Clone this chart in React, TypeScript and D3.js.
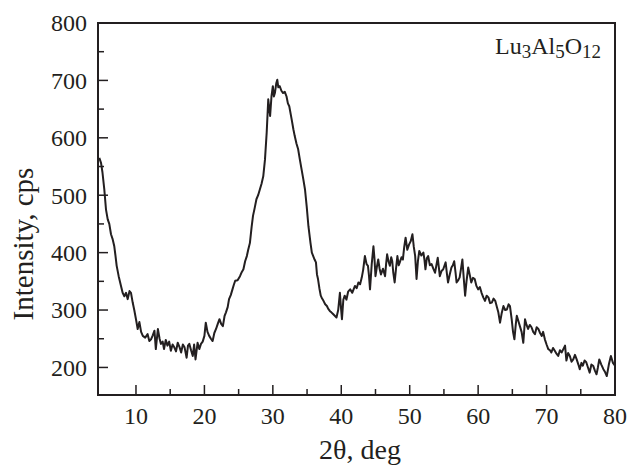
import React from 'react';
import * as d3 from 'd3';

// 2theta (deg) and intensity (cps)
const twoTheta = [
  4.64, 4.9, 5.1, 5.37, 5.62, 5.87, 6.1, 6.35, 6.6, 6.83, 7.0, 7.18, 7.47, 7.81, 8.05, 8.3, 8.55, 8.79, 9.05, 9.27,
  9.52, 9.75, 10.0, 10.25, 10.5, 10.75, 11.0, 11.35, 11.7, 11.95, 12.2, 12.45, 12.7, 12.9, 13.2, 13.45, 13.65, 13.9, 14.1, 14.35,
  14.6, 14.85, 15.1, 15.35, 15.6, 15.85, 16.1, 16.35, 16.6, 16.85, 17.1, 17.4, 17.6, 17.8, 18.05, 18.3, 18.5, 18.7, 19.0, 19.25,
  19.5, 19.75, 20.0, 20.2, 20.45, 20.7, 20.95, 21.2, 21.45, 21.7, 21.95, 22.2, 22.45, 22.7, 22.95, 23.15, 23.4, 23.6, 23.85, 24.1,
  24.3, 24.5, 24.85, 25.2, 25.45, 25.7, 25.95, 26.2, 26.4, 26.65, 26.9, 27.1, 27.35, 27.6, 27.85, 28.1, 28.35, 28.6, 28.85, 29.1,
  29.33, 29.6, 29.8, 30.0, 30.15, 30.3, 30.5, 30.65, 30.8, 31.0, 31.25, 31.5, 31.75, 32.0, 32.2, 32.4, 32.75, 33.0, 33.2, 33.45,
  33.7, 33.95, 34.2, 34.45, 34.7, 34.95, 35.2, 35.5, 35.7, 35.9, 36.1, 36.3, 36.45, 36.6, 36.8, 37.0, 37.2, 37.4, 37.65, 37.9,
  38.1, 38.35, 38.55, 38.8, 39.05, 39.3, 39.55, 39.8, 39.95, 40.1, 40.3, 40.5, 40.75, 41.0, 41.3, 41.6, 42.0, 42.25, 42.5, 42.75,
  43.0, 43.2, 43.45, 43.7, 43.9, 44.05, 44.2, 44.45, 44.7, 44.85, 45.0, 45.2, 45.4, 45.6, 45.8, 46.1, 46.4, 46.55, 46.7, 46.9,
  47.1, 47.3, 47.45, 47.6, 47.8, 48.0, 48.2, 48.4, 48.55, 48.8, 49.0, 49.2, 49.4, 49.65, 49.9, 50.15, 50.4, 50.6, 50.8, 51.0,
  51.2, 51.4, 51.7, 52.0, 52.15, 52.3, 52.5, 52.7, 52.95, 53.2, 53.45, 53.7, 53.9, 54.1, 54.25, 54.4, 54.65, 54.9, 55.1, 55.25,
  55.45, 55.6, 55.85, 56.1, 56.3, 56.5, 56.7, 56.85, 57.1, 57.3, 57.5, 57.7, 57.9, 58.1, 58.3, 58.55, 58.8, 59.0, 59.25, 59.5,
  59.75, 60.0, 60.25, 60.5, 60.75, 61.0, 61.25, 61.5, 61.75, 62.0, 62.25, 62.5, 62.75, 62.95, 63.2, 63.45, 63.7, 63.95, 64.2, 64.45,
  64.65, 64.9, 65.1, 65.3, 65.5, 65.65, 65.9, 66.1, 66.35, 66.6, 66.85, 67.05, 67.3, 67.55, 67.8, 68.05, 68.3, 68.55, 68.8, 69.05,
  69.3, 69.5, 69.75, 70.0, 70.25, 70.5, 70.7, 70.95, 71.2, 71.45, 71.7, 71.95, 72.2, 72.45, 72.7, 72.9, 73.15, 73.4, 73.65, 73.9,
  74.15, 74.4, 74.65, 74.85, 75.1, 75.3, 75.55, 75.8, 76.05, 76.3, 76.55, 76.8, 77.05, 77.3, 77.5, 77.7, 78.0, 78.3, 78.55, 78.8,
  79.1, 79.4, 79.7, 80.0,
];
const intensity = [
  565, 556, 540, 510, 475, 458, 450, 432, 423, 411, 395, 377, 359, 342, 330, 324, 330, 319, 333, 330,
  313, 300, 284, 267, 279, 262, 255, 252, 258, 246, 249, 256, 264, 232, 267, 250, 241, 245, 232, 248,
  238, 245, 229, 240, 235, 228, 243, 236, 226, 240, 235, 217, 238, 241, 230, 220, 240, 214, 243, 232,
  241, 245, 255, 278, 262, 255, 250, 246, 260, 267, 276, 284, 276, 272, 290, 296, 305, 319, 326, 336,
  344, 351, 352, 359, 366, 371, 385, 394, 405, 417, 445, 464, 478, 493, 500, 510, 520, 533, 562, 609,
  667, 638, 672, 690, 672, 678, 695, 701, 688, 690, 682, 678, 680, 672, 660, 655, 632, 615, 603, 590,
  580, 562, 545, 528, 510, 480, 446, 417, 400, 394, 388, 383, 362, 354, 338, 325, 320, 316, 310, 307,
  302, 298, 296, 293, 290, 287, 300, 330, 305, 284, 318, 325, 318, 332, 336, 330, 342, 338, 348, 345,
  357, 370, 394, 380, 377, 360, 336, 380, 411, 390, 359, 375, 388, 372, 362, 372, 359, 380, 397, 385,
  377, 392, 385, 365, 348, 372, 394, 378, 383, 392, 388, 410, 426, 405, 414, 420, 432, 410, 394, 354,
  385, 403, 395, 400, 388, 371, 390, 394, 378, 380, 372, 365, 378, 391, 375, 359, 368, 371, 378, 383,
  362, 348, 362, 374, 378, 385, 365, 348, 352, 357, 372, 388, 355, 325, 350, 374, 360, 348, 356, 354,
  342, 336, 340, 330, 322, 316, 325, 322, 312, 313, 320, 316, 305, 296, 278, 295, 307, 300, 301, 310,
  307, 284, 262, 249, 275, 290, 280, 272, 262, 243, 284, 275, 267, 274, 270, 262, 258, 270, 267, 260,
  255, 262, 249, 240, 232, 230, 226, 234, 229, 224, 220, 230, 226, 232, 238, 212, 225, 220, 210, 214,
  222, 214, 205, 197, 208, 203, 212, 209, 200, 191, 205, 203, 195, 188, 200, 214, 205, 197, 192, 185,
  205, 220, 208, 203,
];

const xTicks = [10, 20, 30, 40, 50, 60, 70, 80];
const xMinor = [15, 25, 35, 45, 55, 65, 75];
const yTicks = [200, 300, 400, 500, 600, 700, 800];
const yMinor = [250, 350, 450, 550, 650, 750];

const W = 632, H = 465;
const left = 98, right = 615, top = 23, bottom = 395;
const font = '"Liberation Serif", "Times New Roman", serif';
const ink = '#231f20';

export default function App() {
  const x = d3.scaleLinear().domain([4.45, 80]).range([left, right]);
  const y = d3.scaleLinear().domain([152, 800]).range([bottom, top]);
  const pts = twoTheta.map((t, i) => [t, intensity[i]] as [number, number]);
  const line = d3.line<[number, number]>().x(d => x(d[0])).y(d => y(d[1]));

  return (
    <svg width={W} height={H} style={{ position: 'absolute', left: 0, top: 0, background: '#fff' }}
      fontFamily={font} fill={ink}>
      <defs>
        <clipPath id="plot"><rect x={left} y={top} width={right - left} height={bottom - top} /></clipPath>
      </defs>
      <path d={line(pts) || ''} fill="none" stroke={ink} strokeWidth={2} strokeLinejoin="round"
        clipPath="url(#plot)" />
      <rect x={left} y={top} width={right - left} height={bottom - top} fill="none" stroke={ink} strokeWidth={2} />
      {xTicks.map(t => (
        <g key={'x' + t}>
          <line x1={x(t)} x2={x(t)} y1={bottom} y2={bottom - 10} stroke={ink} strokeWidth={1.5} />
          <text x={x(t)} y={424} textAnchor="middle" fontSize={24}>{t}</text>
        </g>
      ))}
      {xMinor.map(t => (
        <line key={'xm' + t} x1={x(t)} x2={x(t)} y1={bottom} y2={bottom - 6} stroke={ink} strokeWidth={1.5} />
      ))}
      {yTicks.map(t => (
        <g key={'y' + t}>
          <line x1={left} x2={left + 10} y1={y(t)} y2={y(t)} stroke={ink} strokeWidth={1.5} />
          <text x={87} y={y(t)} dy="0.35em" textAnchor="end" fontSize={24}>{t}</text>
        </g>
      ))}
      {yMinor.map(t => (
        <line key={'ym' + t} x1={left} x2={left + 6} y1={y(t)} y2={y(t)} stroke={ink} strokeWidth={1.5} />
      ))}
      <text x={360} y={459} textAnchor="middle" fontSize={28}>2θ, deg</text>
      <text transform="translate(33,244) rotate(-90)" textAnchor="middle" fontSize={29}>Intensity, cps</text>
      <text x={601} y={54} textAnchor="end" fontSize={24}>
        Lu<tspan fontSize={19} dy={4}>3</tspan>
        <tspan dy={-4}>Al</tspan><tspan fontSize={19} dy={4}>5</tspan>
        <tspan dy={-4}>O</tspan><tspan fontSize={19} dy={4}>12</tspan>
      </text>
    </svg>
  );
}
